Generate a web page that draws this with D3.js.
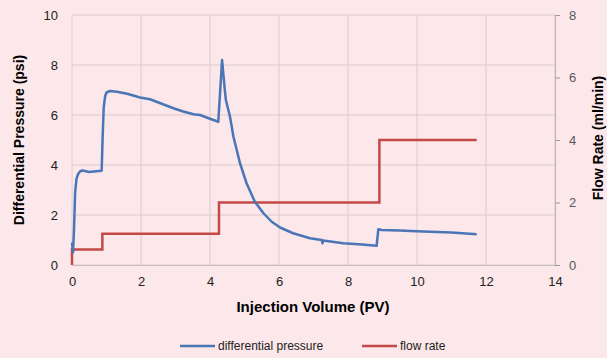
<!DOCTYPE html>
<html>
<head>
<meta charset="utf-8">
<script src="https://cdn.jsdelivr.net/npm/d3@7"></script>
<style>
  body { margin: 0; background: #fce7ea; }
  svg { display: block; font-family: "Liberation Sans", Arial, sans-serif; }
</style>
</head>
<body>
<svg id="chart" width="607" height="358"></svg>
<script>
// injection volume (PV) vs differential pressure (psi)
var pressX = [0, 0.03, 0.06, 0.09, 0.13, 0.18, 0.24, 0.3, 0.5, 0.7, 0.86, 0.89, 0.92, 0.96, 1.0, 1.1, 1.3, 1.6, 1.97, 2.26, 2.6, 2.94, 3.2, 3.52, 3.71, 4.0, 4.24,
              4.35, 4.43, 4.46, 4.58, 4.68, 4.87, 5.06, 5.3, 5.55, 5.79, 6.03, 6.41, 6.9, 7.24, 7.26, 7.28, 7.86, 8.4, 8.83,
              8.88, 8.98, 9.51, 9.8, 10.38, 11.0, 11.73];
var pressY = [0.9, 0.5, 1.5, 2.9, 3.45, 3.65, 3.75, 3.78, 3.72, 3.75, 3.77, 5.2, 6.3, 6.75, 6.9, 6.96, 6.93, 6.85, 6.7, 6.63, 6.45, 6.27, 6.15, 6.03, 6.0, 5.85, 5.73,
              8.2, 7.0, 6.6, 5.93, 5.13, 4.07, 3.27, 2.53, 2.07, 1.73, 1.5, 1.27, 1.07, 1.0, 0.87, 0.98, 0.87, 0.82, 0.77,
              1.43, 1.4, 1.38, 1.36, 1.33, 1.3, 1.23];

// flow rate (ml/min) steps
var flowX = [0, 0, 0.88, 0.88, 4.26, 4.26, 8.91, 8.91, 11.73];
var flowY = [0, 0.5, 0.5, 1, 1, 2, 2, 4, 4];

var xTicks = [0, 2, 4, 6, 8, 10, 12, 14];
var leftTicks = [0, 2, 4, 6, 8, 10];
var rightTicks = [0, 2, 4, 6, 8];

var svg = d3.select("#chart");
var plotL = 72, plotR = 555, plotT = 15, plotB = 265;

var x = d3.scaleLinear().domain([0, 14]).range([plotL, plotR]);
var yL = d3.scaleLinear().domain([0, 10]).range([plotB, plotT]);
var yR = d3.scaleLinear().domain([0, 8]).range([plotB, plotT]);

var gridColor = "#dccbcd";

// gridlines
svg.append("g").selectAll("line").data(leftTicks).enter().append("line")
    .attr("x1", plotL).attr("x2", plotR)
    .attr("y1", d => yL(d)).attr("y2", d => yL(d))
    .attr("stroke", gridColor).attr("stroke-width", 1);
svg.append("g").selectAll("line").data(xTicks).enter().append("line")
    .attr("x1", d => x(d)).attr("x2", d => x(d))
    .attr("y1", plotT).attr("y2", plotB)
    .attr("stroke", gridColor).attr("stroke-width", 1);

// axes
var xAxis = svg.append("g").attr("transform", "translate(0," + plotB + ")")
    .call(d3.axisBottom(x).tickValues(xTicks).tickSize(0).tickPadding(12));
xAxis.select(".domain").attr("stroke", "#cbbcbf");
xAxis.selectAll("text").attr("font-size", 13).attr("fill", "#222").attr("font-family", "Liberation Sans, Arial, sans-serif");

var lAxis = svg.append("g").attr("transform", "translate(" + plotL + ",0)")
    .call(d3.axisLeft(yL).tickValues(leftTicks).tickSize(0).tickPadding(14));
lAxis.select(".domain").remove();
lAxis.selectAll("text").attr("font-size", 13).attr("fill", "#222").attr("font-family", "Liberation Sans, Arial, sans-serif");

var rAxis = svg.append("g").attr("transform", "translate(" + plotR + ",0)")
    .call(d3.axisRight(yR).tickValues(rightTicks).tickSize(5).tickSizeOuter(0).tickPadding(9));
rAxis.select(".domain").attr("stroke", "#bfb0b3");
rAxis.selectAll("line").attr("stroke", "#999");
rAxis.selectAll("text").attr("font-size", 13).attr("fill", "#595959").attr("font-family", "Liberation Sans, Arial, sans-serif");

// axis titles
svg.append("text").attr("transform", "translate(24,140) rotate(-90)")
    .attr("text-anchor", "middle").attr("font-size", 14).attr("font-weight", "bold")
    .text("Differential Pressure (psi)");
svg.append("text").attr("transform", "translate(603,138) rotate(-90)")
    .attr("text-anchor", "middle").attr("font-size", 14).attr("font-weight", "bold")
    .text("Flow Rate (ml/min)");
svg.append("text").attr("x", 313).attr("y", 312)
    .attr("text-anchor", "middle").attr("font-size", 15).attr("font-weight", "bold")
    .text("Injection Volume (PV)");

var blue = "#4a76b6", red = "#c44a4a";

// flow rate line
var flowLine = d3.line().x(d => x(d[0])).y(d => yR(d[1]));
svg.append("path").datum(d3.zip(flowX, flowY))
    .attr("d", flowLine).attr("fill", "none")
    .attr("stroke", red).attr("stroke-width", 2.5);

// pressure line
var pressLine = d3.line().x(d => x(d[0])).y(d => yL(d[1]));
svg.append("path").datum(d3.zip(pressX, pressY))
    .attr("d", pressLine).attr("fill", "none")
    .attr("stroke", blue).attr("stroke-width", 2.5).attr("stroke-linejoin", "round");

// legend
var legend = [["differential pressure", blue, 180], ["flow rate", red, 362]];
var lg = svg.append("g").selectAll("g").data(legend).enter().append("g");
lg.append("line").attr("x1", d => d[2]).attr("x2", d => d[2] + 35)
    .attr("y1", 346).attr("y2", 346)
    .attr("stroke", d => d[1]).attr("stroke-width", 2.5);
lg.append("text").attr("x", d => d[2] + 38).attr("y", 350)
    .attr("font-size", 12).attr("fill", "#222")
    .text(d => d[0]);
</script>
</body>
</html>
